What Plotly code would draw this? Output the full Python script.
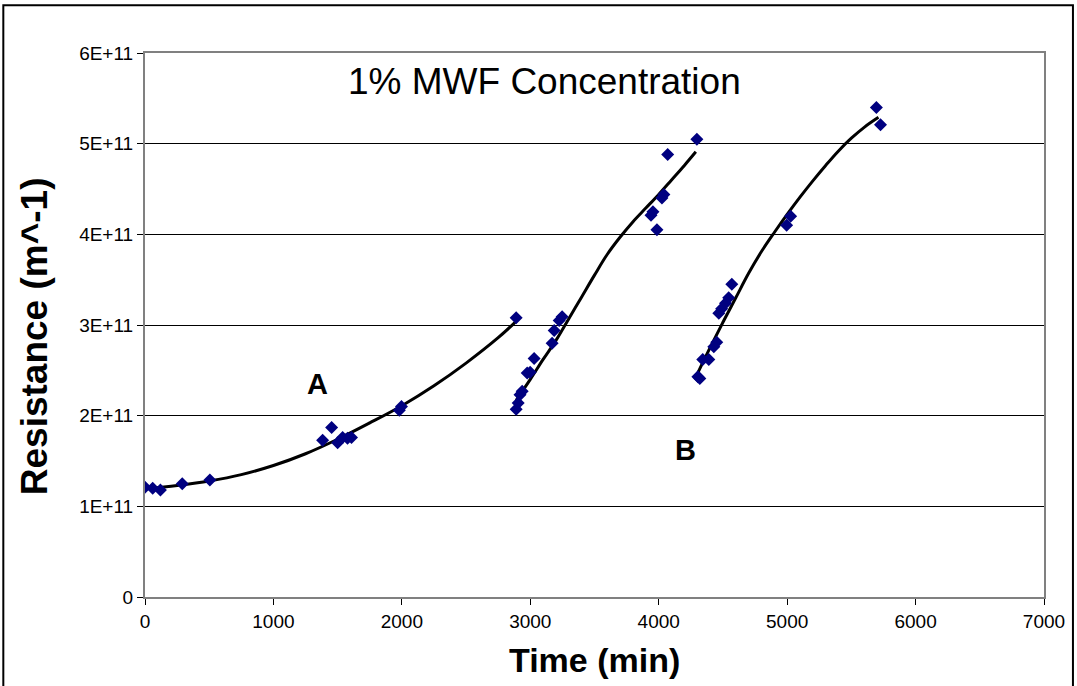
import plotly.graph_objects as go

# Measured data points (time in min, resistance in m^-1)
a_time = [0, 60, 120, 290, 505, 1383, 1453, 1500, 1539, 1577, 1608, 1980, 1997, 2890]
a_res = [1.21e11, 1.20e11, 1.18e11, 1.25e11, 1.29e11, 1.73e11, 1.87e11, 1.70e11, 1.76e11, 1.75e11, 1.76e11, 2.06e11, 2.10e11, 3.08e11]

b_time = [2890, 2906, 2920, 2937, 2976, 2999, 3030, 3170, 3186, 3225, 3248,
          3940, 3955, 3986, 4025, 4040, 4070, 4297]
b_res = [2.07e11, 2.14e11, 2.23e11, 2.27e11, 2.47e11, 2.48e11, 2.63e11, 2.80e11, 2.94e11, 3.05e11, 3.09e11,
         4.21e11, 4.25e11, 4.05e11, 4.40e11, 4.44e11, 4.88e11, 5.05e11]

c_time = [4305, 4320, 4343, 4390, 4429, 4452, 4468, 4490, 4520, 4545, 4569, 4996, 5027, 5695, 5727]
c_res = [2.43e11, 2.41e11, 2.62e11, 2.62e11, 2.76e11, 2.81e11, 3.13e11, 3.18e11, 3.24e11, 3.30e11, 3.45e11,
         4.10e11, 4.20e11, 5.40e11, 5.21e11]

# Trend lines
fit1_time = [0, 250, 500, 750, 1000, 1250, 1500, 1750, 2000, 2250, 2500, 2750, 2890]
fit1_res = [1.19e11, 1.23e11, 1.28e11, 1.35e11, 1.45e11, 1.58e11, 1.74e11, 1.92e11, 2.11e11, 2.33e11, 2.58e11, 2.86e11, 3.04e11]

fit2_time = [2890, 3000, 3100, 3200, 3300, 3400, 3500, 3600, 3700, 3800, 3900, 4000, 4100, 4200, 4289]
fit2_res = [2.17e11, 2.40e11, 2.62e11, 2.83e11, 3.07e11, 3.31e11, 3.55e11, 3.78e11, 3.97e11, 4.14e11, 4.29e11,
            4.44e11, 4.60e11, 4.76e11, 4.91e11]

fit3_time = [4297, 4400, 4500, 4600, 4700, 4800, 4900, 5000, 5100, 5200, 5300, 5400, 5500, 5600, 5711]
fit3_res = [2.45e11, 2.75e11, 3.03e11, 3.30e11, 3.57e11, 3.81e11, 4.02e11, 4.22e11, 4.41e11, 4.59e11,
            4.76e11, 4.92e11, 5.06e11, 5.18e11, 5.29e11]

x_ticks = [0, 1000, 2000, 3000, 4000, 5000, 6000, 7000]
y_ticks = [0, 1e11, 2e11, 3e11, 4e11, 5e11, 6e11]
y_tick_labels = ["0", "1E+11", "2E+11", "3E+11", "4E+11", "5E+11", "6E+11"]

fig = go.Figure()
for t, r in [(fit1_time, fit1_res), (fit2_time, fit2_res), (fit3_time, fit3_res)]:
    fig.add_trace(go.Scatter(x=t, y=r, mode="lines", line=dict(color="black", width=3, shape="spline"),
                             showlegend=False, hoverinfo="skip"))
for t, r in [(a_time, a_res), (b_time, b_res), (c_time, c_res)]:
    fig.add_trace(go.Scatter(x=t, y=r, mode="markers",
                             marker=dict(symbol="diamond", color="#000080", size=10),
                             showlegend=False))

font_family = "Liberation Sans, Arial, sans-serif"

fig.update_layout(
    width=1077, height=686,
    margin=dict(l=145, r=31, t=53, b=89),
    paper_bgcolor="white", plot_bgcolor="white",
    font=dict(family=font_family, color="black", size=19),
    xaxis=dict(range=[0, 7000], tickvals=x_ticks, showgrid=False, zeroline=False,
               showline=True, linecolor="#808080", linewidth=2, mirror=True,
               ticks="outside", ticklen=6, tickcolor="black",
               tickfont=dict(size=19)),
    yaxis=dict(range=[0, 6e11], tickvals=y_ticks, ticktext=y_tick_labels,
               showgrid=True, gridcolor="black", gridwidth=1, zeroline=False,
               showline=True, linecolor="#808080", linewidth=2, mirror=True,
               ticks="outside", ticklen=6, tickcolor="black",
               tickfont=dict(size=19)),
    annotations=[
        dict(x=0.444, y=0.947, xref="paper", yref="paper", text="1% MWF Concentration",
             xanchor="center", yanchor="middle", showarrow=False, font=dict(size=37)),
        dict(x=1340, y=2.35e11, xref="x", yref="y", text="<b>A</b>",
             xanchor="center", yanchor="middle", showarrow=False, font=dict(size=29)),
        dict(x=4210, y=1.62e11, xref="x", yref="y", text="<b>B</b>",
             xanchor="center", yanchor="middle", showarrow=False, font=dict(size=29)),
        dict(x=0.5, y=-0.116, xref="paper", yref="paper", text="<b>Time (min)</b>",
             xanchor="center", yanchor="middle", showarrow=False, font=dict(size=34)),
        dict(x=-0.122, y=0.48, xref="paper", yref="paper", text="<b>Resistance (m^-1)</b>",
             xanchor="center", yanchor="middle", showarrow=False, textangle=-90, font=dict(size=37)),
    ],
    shapes=[
        dict(type="rect", xref="paper", yref="paper", x0=-0.1576, x1=1.0322, y0=-0.2, y1=1.088,
             line=dict(color="black", width=2), fillcolor="rgba(0,0,0,0)", layer="above"),
    ],
)

fig.write_html("out.html", config={"displayModeBar": False},
               post_script="document.body.style.margin='0px';document.body.style.overflow='hidden';")
